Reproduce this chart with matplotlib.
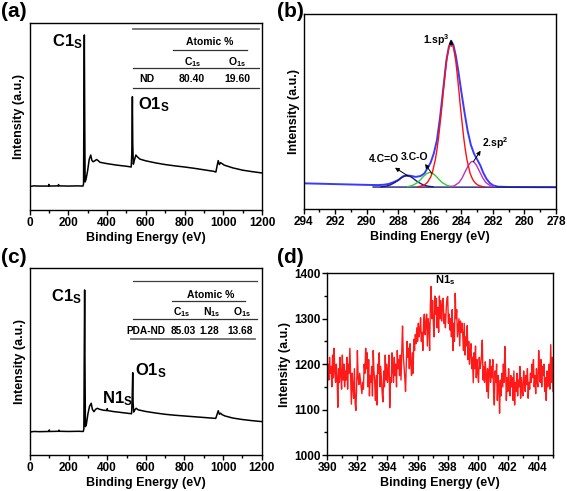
import numpy as np
import matplotlib
matplotlib.use('Agg')
import matplotlib.pyplot as plt
from matplotlib.ticker import MultipleLocator

plt.rcParams['font.family'] = 'Liberation Sans'
plt.rcParams['font.weight'] = 'bold'
plt.rcParams['axes.labelweight'] = 'bold'
plt.rcParams['mathtext.fontset'] = 'custom'
plt.rcParams['mathtext.rm'] = 'Liberation Sans:bold'
plt.rcParams['mathtext.it'] = 'Liberation Sans:bold'
plt.rcParams['mathtext.bf'] = 'Liberation Sans:bold'

# (a) survey spectrum of ND
survey_a_energy = [0, 20, 50, 98, 100, 102, 148, 150, 152, 200,
                   250, 276, 279, 281, 283, 285, 287, 292, 300, 308,
                   316, 322, 329, 337, 346, 353, 364, 400, 450, 500,
                   525, 528, 531, 533, 536, 541, 549, 556, 570, 600,
                   650, 700, 750, 800, 850, 900, 950, 962, 968, 974,
                   980, 986, 994, 1005, 1050, 1100, 1150, 1200]
survey_a_counts = [12.5, 12.9, 12.8, 12.8, 13.7, 12.8, 12.9, 13.6, 12.9, 12.8,
                   12.9, 12.8, 14.0, 60.0, 93.6, 50.0, 15.0, 16.5, 21.0, 27.0,
                   29.4, 26.5, 25.8, 26.3, 27.0, 26.5, 25.5, 24.8, 24.0, 23.4,
                   23.0, 30.0, 60.6, 35.0, 24.5, 26.5, 29.4, 28.5, 27.2, 26.3,
                   25.2, 24.3, 23.6, 23.0, 22.3, 21.5, 20.7, 20.3, 23.5, 26.4,
                   24.3, 25.3, 24.8, 24.0, 22.5, 21.3, 20.5, 19.8]
table_a_sample = 'ND'
table_a_cols = [r'C$_{1s}$', r'O$_{1s}$']
table_a_vals = ['80.40', '19.60']

# (c) survey spectrum of PDA-ND
survey_c_energy = [0, 20, 50, 98, 100, 102, 148, 150, 152, 200,
                   250, 276, 279, 281, 283, 285, 287, 292, 300, 308,
                   317, 323, 331, 340, 349, 360, 380, 398, 400, 402,
                   430, 470, 510, 526, 529, 532, 534, 537, 543, 550,
                   560, 600, 650, 700, 750, 800, 850, 900, 950, 962,
                   968, 975, 981, 987, 995, 1010, 1050, 1100, 1150, 1200]
survey_c_counts = [12.3, 12.6, 12.5, 12.6, 13.4, 12.6, 12.7, 13.3, 12.7, 12.6,
                   12.7, 12.6, 14.0, 55.0, 88.4, 45.0, 15.2, 16.5, 22.0, 26.0,
                   27.7, 24.5, 23.2, 24.5, 25.0, 24.5, 24.0, 23.8, 24.8, 23.8,
                   23.3, 22.8, 22.3, 22.1, 30.0, 44.1, 28.0, 23.0, 24.2, 25.0,
                   24.2, 23.3, 22.5, 21.8, 21.3, 20.9, 20.5, 20.1, 19.7, 19.6,
                   21.5, 23.7, 21.8, 22.4, 21.6, 20.9, 19.8, 19.0, 18.4, 17.9]
table_c_sample = 'PDA-ND'
table_c_cols = [r'C$_{1s}$', r'N$_{1s}$', r'O$_{1s}$']
table_c_vals = ['85.03', '1.28', '13.68']

# (b) C1s high resolution with fitted components
c1s_env_x = [294.0, 293.0, 292.0, 291.0, 290.0, 289.3, 288.9, 288.6, 288.3, 288.0,
             287.7, 287.46, 287.2, 286.9, 286.6, 286.35, 286.15, 285.95, 285.75, 285.55,
             285.35, 285.15, 284.95, 284.8, 284.65, 284.5, 284.35, 284.2, 284.0, 283.8,
             283.6, 283.4, 283.2, 283.0, 282.8, 282.6, 282.4, 282.2, 282.0, 281.7,
             281.0, 278.0]
c1s_env_y = [13.3, 13.1, 12.9, 12.7, 12.5, 12.4, 12.6, 13.0, 13.9, 15.0,
             16.9, 17.4, 17.1, 16.6, 17.0, 18.3, 21.1, 23.9, 28.6, 35.4,
             47.2, 61.8, 76.3, 83.0, 86.3, 84.0, 78.5, 71.0, 60.0, 49.5,
             40.0, 33.0, 28.5, 25.5, 22.5, 18.5, 15.5, 13.5, 12.3, 11.6,
             11.4, 11.3]
sp3_x = [286.75, 286.35, 286.15, 285.95, 285.85, 285.75, 285.65, 285.55, 285.45, 285.35,
         285.25, 285.15, 285.05, 284.95, 284.85, 284.75, 284.65, 284.55, 284.45, 284.35,
         284.25, 284.15, 284.05, 283.95, 283.85, 283.75, 283.65, 283.55, 283.45, 283.35,
         283.25, 283.1, 282.95, 282.75, 282.55]
sp3_y = [11.5, 12.4, 13.8, 16.5, 18.5, 22.0, 25.5, 30.5, 36.5, 44.0,
         51.5, 60.0, 68.0, 75.5, 80.5, 84.2, 85.5, 84.2, 80.5, 75.5,
         68.0, 60.0, 51.5, 44.0, 36.5, 30.5, 25.5, 22.0, 18.5, 16.5,
         14.8, 13.3, 12.4, 11.8, 11.5]
sp2_x = [284.7, 284.45, 284.15, 283.95, 283.75, 283.55, 283.4, 283.3, 283.2, 283.05,
         282.85, 282.65, 282.45, 282.15, 281.9]
sp2_y = [11.6, 12.0, 13.7, 16.1, 19.4, 22.6, 24.2, 24.5, 24.2, 22.6,
         19.4, 16.1, 13.7, 12.0, 11.6]
co_x = [287.4, 287.1, 286.8, 286.6, 286.4, 286.2, 286.0, 285.8, 285.6, 285.4,
        285.2, 284.9, 284.6]
co_y = [11.6, 12.2, 13.6, 15.1, 16.9, 18.3, 18.9, 18.3, 16.9, 15.1,
        13.6, 12.2, 11.6]
cdo_x = [289.1, 288.8, 288.5, 288.2, 288.0, 287.8, 287.6, 287.46, 287.3, 287.1,
         286.9, 286.7, 286.4, 286.1, 285.8]
cdo_y = [11.5, 11.8, 12.5, 13.8, 14.9, 16.2, 17.0, 17.2, 17.0, 16.1,
         14.8, 13.7, 12.4, 11.8, 11.5]
bg_x = [289.6, 278.0]
bg_y = [11.4, 11.3]

# (d) N1s high resolution (0.05 eV steps from 390 to 405)
n1s_counts = [
    1175, 1200, 1165, 1215, 1180, 1195, 1150, 1220, 1170, 1235, 1185, 1160, 1200, 1170, 1105, 1190, 1160, 1215, 1175, 1145,
    1220, 1165, 1200, 1150, 1185, 1165, 1215, 1145, 1200, 1180, 1235, 1170, 1112, 1180, 1150, 1125, 1190, 1115, 1098, 1150,
    1230, 1170, 1155, 1180, 1165, 1150, 1135, 1160, 1145, 1200, 1180, 1235, 1190, 1225, 1150, 1210, 1130, 1175, 1160, 1195,
    1130, 1230, 1185, 1160, 1120, 1175, 1110, 1200, 1180, 1225, 1150, 1195, 1165, 1135, 1117, 1185, 1150, 1220, 1165, 1200,
    1160, 1185, 1220, 1104, 1170, 1160, 1225, 1185, 1160, 1215, 1175, 1200, 1150, 1230, 1190, 1210, 1175, 1220, 1165, 1230,
    1284, 1220, 1195, 1170, 1140, 1200, 1250, 1215, 1235, 1190, 1245, 1200, 1175, 1225, 1180, 1255, 1230, 1265, 1245, 1280,
    1250, 1290, 1260, 1275, 1302, 1250, 1270, 1230, 1295, 1310, 1265, 1290, 1310, 1240, 1300, 1285, 1230, 1330, 1371, 1300,
    1340, 1290, 1260, 1350, 1310, 1345, 1280, 1325, 1270, 1350, 1300, 1340, 1295, 1330, 1345, 1290, 1310, 1280, 1320, 1345,
    1349, 1290, 1310, 1275, 1300, 1260, 1320, 1230, 1290, 1250, 1356, 1300, 1320, 1260, 1280, 1300, 1240, 1295, 1270, 1290,
    1265, 1230, 1290, 1220, 1260, 1240, 1285, 1210, 1250, 1200, 1230, 1245, 1190, 1215, 1159, 1225, 1190, 1240, 1170, 1210,
    1180, 1160, 1215, 1190, 1200, 1220, 1253, 1165, 1195, 1160, 1205, 1175, 1140, 1190, 1125, 1180, 1210, 1160, 1195, 1170,
    1210, 1140, 1110, 1185, 1160, 1200, 1120, 1175, 1150, 1092, 1165, 1130, 1180, 1150, 1200, 1160, 1239, 1185, 1120, 1170,
    1140, 1190, 1155, 1130, 1175, 1150, 1170, 1120, 1185, 1110, 1160, 1140, 1180, 1130, 1165, 1150, 1195, 1125, 1170, 1145,
    1130, 1185, 1160, 1140, 1175, 1155, 1190, 1125, 1160, 1145, 1180, 1160, 1200, 1170, 1210, 1150, 1175, 1135, 1190, 1160,
    1150, 1230, 1185, 1160, 1210, 1150, 1195, 1175, 1200, 1140, 1170, 1120, 1185, 1150, 1165, 1200, 1145, 1243, 1160, 1215,
    1140]
n1s_energy = np.linspace(390, 405, len(n1s_counts))

W, H = 567, 491
fig = plt.figure(figsize=(W / 100, H / 100), dpi=100)


def px_axes(left, top, right, bottom):
    return fig.add_axes([left / W, 1 - bottom / H, (right - left) / W, (bottom - top) / H])


def style(ax):
    for s in ax.spines.values():
        s.set_linewidth(1.0)
    ax.tick_params(which='both', direction='out', width=1.0, labelsize=8.5, pad=1.5)
    ax.tick_params(which='major', length=3.5)
    ax.tick_params(which='minor', length=2)
    ax.set_xlabel('Binding Energy (eV)', fontsize=9, labelpad=2)
    ax.set_ylabel('Intensity (a.u.)', fontsize=9, labelpad=3)


def survey(ax, energy, counts):
    ax.plot(energy, counts, color='black', lw=1.1)
    ax.set_xlim(0, 1200)
    ax.set_ylim(0, 100)
    ax.xaxis.set_major_locator(MultipleLocator(200))
    ax.xaxis.set_minor_locator(MultipleLocator(100))
    ax.set_yticks([])
    style(ax)


def hline(ax, x0, x1, y, color='#333333', lw=0.9):
    ax.plot([x0, x1], [y, y], transform=ax.transAxes, color=color, lw=lw, clip_on=False)


# (a)
ax_a = px_axes(29.5, 23, 262, 210)
survey(ax_a, survey_a_energy, survey_a_counts)
ax_a.text(0.230, 0.898, r'C1$_{\rm S}$', transform=ax_a.transAxes, fontsize=12, ha='right', va='center')
ax_a.text(0.467, 0.565, r'O1$_{\rm S}$', transform=ax_a.transAxes, fontsize=12, ha='left', va='center')
hline(ax_a, 0.445, 0.987, 0.966, color='#707070', lw=1.3)
ax_a.text(0.776, 0.900, 'Atomic %', transform=ax_a.transAxes, fontsize=7.5, ha='center', va='center')
hline(ax_a, 0.617, 0.935, 0.856)
for lbl, xc in zip(table_a_cols, [0.703, 0.892]):
    ax_a.text(xc, 0.793, lbl, transform=ax_a.transAxes, fontsize=7.5, ha='center', va='center')
hline(ax_a, 0.445, 0.987, 0.761)
ax_a.text(0.504, 0.701, table_a_sample, transform=ax_a.transAxes, fontsize=7.5, ha='center', va='center')
for val, xc in zip(table_a_vals, [0.699, 0.892]):
    ax_a.text(xc, 0.701, val, transform=ax_a.transAxes, fontsize=7.5, ha='center', va='center')
hline(ax_a, 0.445, 0.987, 0.654)

# (c)
ax_c = px_axes(30, 268.3, 261.7, 455)
survey(ax_c, survey_c_energy, survey_c_counts)
ax_c.text(0.224, 0.846, r'C1$_{\rm S}$', transform=ax_c.transAxes, fontsize=12, ha='right', va='center')
ax_c.text(0.453, 0.450, r'O1$_{\rm S}$', transform=ax_c.transAxes, fontsize=12, ha='left', va='center')
ax_c.text(0.311, 0.300, r'N1$_{\rm S}$', transform=ax_c.transAxes, fontsize=12, ha='left', va='center')
hline(ax_c, 0.445, 0.980, 0.932, color='#404040')
ax_c.text(0.781, 0.857, 'Atomic %', transform=ax_c.transAxes, fontsize=7.5, ha='center', va='center')
hline(ax_c, 0.613, 0.928, 0.825)
for lbl, xc in zip(table_c_cols, [0.656, 0.785, 0.915]):
    ax_c.text(xc, 0.768, lbl, transform=ax_c.transAxes, fontsize=7.5, ha='center', va='center')
hline(ax_c, 0.445, 0.980, 0.728)
ax_c.text(0.500, 0.664, table_c_sample, transform=ax_c.transAxes, fontsize=7.3, ha='center', va='center')
for val, xc in zip(table_c_vals, [0.663, 0.775, 0.906]):
    ax_c.text(xc, 0.664, val, transform=ax_c.transAxes, fontsize=7.3, ha='center', va='center')
hline(ax_c, 0.434, 0.971, 0.621, color='#707070', lw=1.3)

# (b)
ax_b = px_axes(303.7, 14, 556, 209.3)
ax_b.plot(c1s_env_x, c1s_env_y, color='#3a3aff', lw=1.4)
ax_b.plot(bg_x, bg_y, color='#1c1c80', lw=1.0)
ax_b.plot(cdo_x, cdo_y, color='#1c1c80', lw=1.0)
ax_b.plot(co_x, co_y, color='#33cc33', lw=1.0)
ax_b.plot(sp2_x, sp2_y, color='#c030c0', lw=1.0)
ax_b.plot(sp3_x, sp3_y, color='#ff1010', lw=1.0)
ax_b.set_xlim(294, 278)
ax_b.set_ylim(0, 100)
ax_b.xaxis.set_major_locator(MultipleLocator(2))
ax_b.xaxis.set_minor_locator(MultipleLocator(1))
ax_b.set_yticks([])
style(ax_b)
arrow = dict(arrowstyle='-|>', color='black', lw=0.7, mutation_scale=6, shrinkA=0, shrinkB=0)
peak_i = int(np.argmax(c1s_env_y))
ax_b.annotate('', xy=(c1s_env_x[peak_i], c1s_env_y[peak_i] + 0.5),
              xytext=(c1s_env_x[peak_i], c1s_env_y[peak_i] - 3), arrowprops=arrow)
ax_b.text(284.72, 86.5, r'1.sp$^3$', fontsize=7.5, ha='right', va='center')
ax_b.annotate('', xy=(282.78, 30.0), xytext=(283.24, 24.4), arrowprops=arrow)
ax_b.text(282.72, 33.8, r'2.sp$^2$', fontsize=7.5, ha='left', va='center')
ax_b.annotate('', xy=(286.3, 23.2), xytext=(285.88, 18.4), arrowprops=arrow)
ax_b.text(287.0, 26.8, '3.C-O', fontsize=7.5, ha='center', va='center')
ax_b.annotate('', xy=(288.21, 21.3), xytext=(287.37, 17.0), arrowprops=arrow)
ax_b.text(288.9, 25.5, '4.C=O', fontsize=7.5, ha='center', va='center')

# (d)
ax_d = px_axes(327.3, 273.3, 553, 455)
ax_d.plot(n1s_energy, n1s_counts, color='#ff1a1a', lw=1.0)
ax_d.set_xlim(390, 405)
ax_d.set_ylim(1000, 1400)
ax_d.xaxis.set_major_locator(MultipleLocator(2))
ax_d.xaxis.set_minor_locator(MultipleLocator(1))
ax_d.yaxis.set_major_locator(MultipleLocator(100))
ax_d.yaxis.set_minor_locator(MultipleLocator(50))
style(ax_d)
ax_d.set_ylabel('Intensity (a.u.)', fontsize=9, labelpad=2)
ax_d.text(397.8, 1385, r'N1$_{\rm s}$', fontsize=8, ha='center', va='center')

for lbl, x, y in [('(a)', 1, 2), ('(b)', 277, 2), ('(c)', 1, 248), ('(d)', 277, 248)]:
    fig.text(x / W, 1 - y / H, lbl, fontsize=15, ha='left', va='top')

fig.savefig('out.png', dpi=100)
